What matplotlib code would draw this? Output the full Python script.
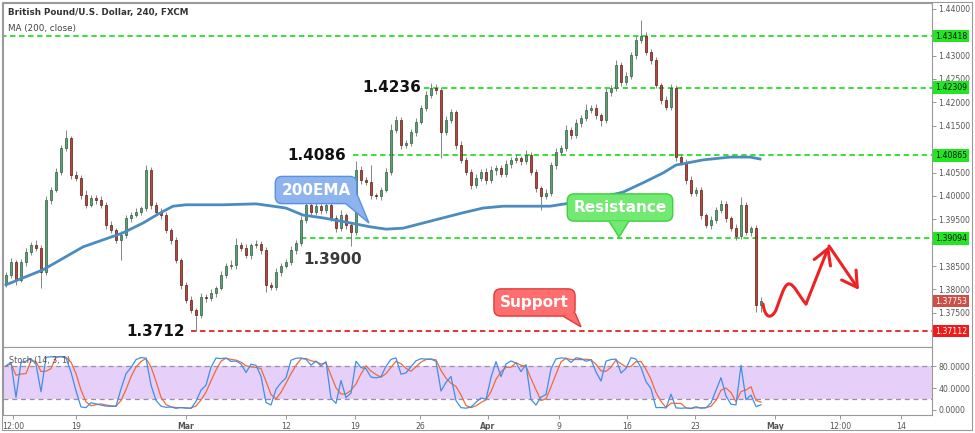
import numpy as np
import pandas as pd
import matplotlib
matplotlib.use('Agg')
import matplotlib.pyplot as plt
from matplotlib.patches import Rectangle, Polygon, FancyArrowPatch, PathPatch
from matplotlib.path import Path
from matplotlib import ticker

# GBP/USD, one candle per ~8h
open0 = 1.3813
closes = [
    1.3831, 1.3859, 1.3820, 1.3859, 1.3880, 1.3895, 1.3889, 1.3837, 1.3991, 1.4013,
    1.4051, 1.4102, 1.4124, 1.4045, 1.4038, 1.4002, 1.3981, 1.3996, 1.3991, 1.3981,
    1.3938, 1.3927, 1.3906, 1.3916, 1.3953, 1.3959, 1.3966, 1.3974, 1.4055, 1.3981,
    1.3966, 1.3959, 1.3927, 1.3906, 1.3863, 1.3810, 1.3778, 1.3756, 1.3745, 1.3784,
    1.3782, 1.3793, 1.3803, 1.3831, 1.3850, 1.3852, 1.3895, 1.3889, 1.3874, 1.3895,
    1.3897, 1.3884, 1.3810, 1.3805, 1.3837, 1.3850, 1.3859, 1.3884, 1.3899, 1.3949,
    1.3981, 1.3966, 1.3978, 1.3970, 1.3981, 1.3953, 1.3931, 1.3959, 1.3938, 1.3923,
    1.4055, 1.4034, 1.4030, 1.4002, 1.4000, 1.4013, 1.4051, 1.4141, 1.4162, 1.4109,
    1.4113, 1.4137, 1.4158, 1.4188, 1.4216, 1.4231, 1.4226, 1.4137, 1.4162, 1.4179,
    1.4109, 1.4077, 1.4051, 1.4023, 1.4038, 1.4051, 1.4034, 1.4055, 1.4060, 1.4047,
    1.4068, 1.4077, 1.4081, 1.4075, 1.4088, 1.4051, 1.4017, 1.4000, 1.4006, 1.4066,
    1.4094, 1.4102, 1.4141, 1.4130, 1.4156, 1.4167, 1.4184, 1.4188, 1.4173, 1.4162,
    1.4222, 1.4231, 1.4280, 1.4244, 1.4256, 1.4301, 1.4333, 1.4342, 1.4308, 1.4291,
    1.4237, 1.4205, 1.4190, 1.4231, 1.4083, 1.4073, 1.4034, 1.4006, 1.4013, 1.3959,
    1.3938, 1.3949, 1.3970, 1.3983, 1.3953, 1.3931, 1.3914, 1.3981, 1.3923, 1.3931,
    1.3767, 1.3775]

# wick lengths in pips above / below the body
wick_up = [
    6, 8, 5, 7, 9, 6, 10, 5, 8, 6,
    9, 7, 17, 5, 8, 6, 10, 7, 5, 8,
    6, 9, 5, 8, 7, 6, 9, 5, 11, 7,
    5, 8, 6, 4, 7, 5, 6, 8, 5, 9,
    6, 7, 5, 8, 6, 10, 14, 6, 8, 5,
    9, 7, 6, 5, 8, 6, 7, 9, 6, 8,
    12, 6, 8, 5, 9, 7, 6, 10, 5, 6,
    20, 8, 6, 36, 5, 7, 8, 12, 9, 6,
    7, 5, 8, 6, 9, 10, 8, 6, 9, 7,
    5, 8, 6, 7, 9, 6, 8, 10, 6, 7,
    8, 6, 9, 5, 10, 6, 7, 5, 8, 6,
    9, 7, 10, 6, 8, 7, 12, 6, 8, 5,
    9, 7, 10, 6, 8, 7, 9, 34, 8, 6,
    7, 5, 8, 9, 6, 7, 5, 8, 6, 7,
    5, 8, 6, 9, 7, 5, 8, 17, 6, 5,
    6, 8]
wick_dn = [
    7, 6, 10, 5, 8, 6, 7, 34, 6, 8,
    5, 7, 6, 9, 6, 8, 7, 5, 9, 6,
    8, 6, 7, 43, 6, 8, 5, 7, 6, 9,
    6, 8, 7, 9, 6, 8, 7, 6, 34, 7,
    8, 6, 9, 5, 7, 6, 8, 7, 6, 9,
    6, 8, 15, 7, 6, 8, 5, 7, 9, 6,
    7, 8, 6, 9, 7, 6, 8, 7, 9, 30,
    6, 8, 7, 9, 6, 8, 5, 7, 6, 9,
    7, 6, 8, 5, 7, 6, 9, 55, 7, 6,
    8, 7, 6, 9, 7, 6, 8, 7, 10, 6,
    7, 9, 6, 8, 7, 6, 8, 30, 7, 6,
    8, 6, 7, 9, 6, 8, 7, 6, 9, 13,
    7, 8, 6, 9, 7, 6, 8, 7, 6, 9,
    6, 8, 7, 6, 9, 7, 8, 6, 7, 9,
    6, 8, 7, 6, 9, 7, 8, 6, 7, 8,
    15, 15]

# 200 EMA (bar index, price)
ema_bar = [0, 7.4, 15.4, 23.4, 27.4, 30.4, 33.4, 36, 43.4, 50, 53.4, 56, 59.4, 63.4, 68,
           72.8, 76, 79.4, 83.4, 87.4, 91.4, 95.4, 99.4, 108.8, 115.4, 119.4, 123.4,
           127.4, 131.4, 134, 136, 139.4, 144.8, 148.8, 150.8]
ema_val = [1.3810, 1.3842, 1.3891, 1.3921, 1.3942, 1.3961, 1.3978, 1.3981, 1.3981, 1.3983,
           1.3978, 1.3974, 1.3959, 1.3953, 1.3944, 1.3934, 1.3929, 1.3931, 1.3942, 1.3953,
           1.3964, 1.3974, 1.3978, 1.3978, 1.3989, 1.3998, 1.4008, 1.4028, 1.4049, 1.4066,
           1.4070, 1.4077, 1.4083, 1.4083, 1.4079]

levels = [1.43418, 1.42309, 1.40865, 1.39094]
level_from = [-1, 83.6, 69.4, 59]
support = 1.37112
support_from = 37
last_price = 1.37753

xtick_pos = [1.4, 14, 36, 56, 69.8, 82.8, 96.4, 110.6, 124.2, 137.8, 153.8, 166.8, 179]
xtick_lab = ['12:00', '19', 'Mar', '12', '19', '26', 'Apr', '9', '16', '23', 'May', '12:00', '14']

# projected move drawn by hand (bar index, price)
wave_pts = [(151.4, 1.3769), (151.8, 1.3739), (153.0, 1.3735), (154.0, 1.3756),
            (154.8, 1.3778), (155.6, 1.3812), (156.6, 1.3812),
            (157.6, 1.3812), (158.6, 1.3786), (160.0, 1.3769)]
arrow_up = [(160.0, 1.3769), (164.6, 1.3893)]
arrow_dn = [(164.6, 1.3893), (170.6, 1.3799)]

c = np.array(closes)
o = np.array([open0] + closes[:-1])
h = np.maximum(o, c) + np.array(wick_up) * 1e-4
l = np.minimum(o, c) - np.array(wick_dn) * 1e-4
idx = np.arange(len(c))

fig = plt.figure(figsize=(9.75, 4.33), dpi=100)
ax = fig.add_axes([3 / 975, 86 / 433, 929 / 975, 344 / 433])
ax2 = fig.add_axes([3 / 975, 18 / 433, 929 / 975, 68 / 433], sharex=ax)

up = c >= o
ax.vlines(idx, l, h, color='#737375', lw=0.6, zorder=2)
ax.bar(idx, c - o, bottom=o, width=0.55,
       color=np.where(up, '#5f9f78', '#b5483a'),
       edgecolor=np.where(up, '#2c5e3e', '#5b1a13'), linewidth=0.5, zorder=2.1)
ax.plot(ema_bar, ema_val, color='#4a8cbf', lw=2, zorder=3)

for lv, x0 in zip(levels, level_from):
    ax.plot([x0, 190], [lv, lv], color='#2add2a', lw=1.3, dashes=(3, 2), zorder=1.8)
ax.plot([support_from, 190], [support, support], color='#e52222', lw=1.3, dashes=(3, 2), zorder=1.8)

ax.set_xlim(-0.6, 185.2)
ax.set_ylim(1.3677, 1.44124)

# right price scale; labels sitting under a level tag are left blank
yt = np.arange(1.375, 1.4401, 0.005)
tag_vals = levels + [last_price, support]
ax.yaxis.tick_right()
ax.set_yticks(yt)
ax.set_yticklabels(['' if min(abs(v - t) for t in tag_vals) < 0.0016 else '%.5f' % v for v in yt])
ax.tick_params(axis='y', length=3, width=0.6, color='#888', labelsize=5.6,
               labelcolor='#555', pad=1.5)
ax.tick_params(axis='x', bottom=False, labelbottom=False)
for s in ax.spines.values():
    s.set_color('#9a9a9a')
    s.set_linewidth(0.8)

# price labels on the right axis
tags = [(lv, '#22e622', '#111111') for lv in levels] + \
       [(last_price, '#cc4f48', 'white'), (support, '#f01a1a', 'white')]
tf = ax.get_yaxis_transform()
for lv, fc, tc in tags:
    ax.annotate('%.5f' % lv, xy=(1, lv), xycoords=tf, xytext=(2, 0),
                textcoords='offset points', ha='left', va='center', fontsize=5.6,
                color=tc, annotation_clip=False, zorder=6,
                bbox=dict(boxstyle='square,pad=0.25', fc=fc, ec='none'))

# level numbers
ax.text(83, 1.42309, '1.4236', ha='right', va='center', fontsize=11, weight='bold', color='#111')
ax.text(68, 1.40865, '1.4086', ha='right', va='center', fontsize=11, weight='bold', color='#111')
ax.text(59.4, 1.3863, '1.3900', ha='left', va='center', fontsize=11, weight='bold', color='#3a3a3a')
ax.text(35.8, 1.37112, '1.3712', ha='right', va='center', fontsize=11, weight='bold', color='#111')

# callouts
def callout(x, y, txt, fc, ec, tail):
    ax.text(x, y, txt, ha='center', va='center', color='white', fontsize=11, weight='bold',
            zorder=6, bbox=dict(boxstyle='round,pad=0.4,rounding_size=0.45', fc=fc, ec=ec, lw=1))
    ax.add_patch(Polygon(tail, closed=False, fc=fc, ec=ec, lw=1, zorder=6.5))

callout(62, 1.40126, '200EMA', '#8db4ef', '#5b8fe3',
        [(68.0, 1.3983), (72.6, 1.3942), (70.2, 1.4004)])
callout(122.8, 1.39752, 'Resistance', '#72ea72', '#3fd03f',
        [(120.6, 1.3946), (122.6, 1.3912), (124.6, 1.3946)])
callout(105.7, 1.37722, 'Support', '#ff6e6e', '#e03a3a',
        [(111.4, 1.3743), (115.0, 1.3720), (113.8, 1.3750)])

# hand-drawn projection
codes = [Path.MOVETO] + [Path.CURVE4] * 9
ax.add_patch(PathPatch(Path(wave_pts, codes), fc='none', ec='#ee2222', lw=2.2,
                       capstyle='round', zorder=5))
for a, b in (arrow_up, arrow_dn):
    ax.add_patch(FancyArrowPatch(a, b, arrowstyle='->,head_length=0.6,head_width=0.35',
                                 mutation_scale=18, color='#ee2222', lw=2.2,
                                 shrinkA=0, shrinkB=0, capstyle='round', zorder=5))

fig.text(8 / 975, 1 - 13 / 433, 'British Pound/U.S. Dollar, 240, FXCM', fontsize=6.3,
         weight='semibold', color='#333', va='center')
fig.text(8 / 975, 1 - 29 / 433, 'MA (200, close)', fontsize=6.3, color='#444', va='center')

# stochastic (14, 3, 1) from the candles above
win = 6
hh = pd.Series(h).rolling(win, min_periods=1).max()
ll = pd.Series(l).rolling(win, min_periods=1).min()
k = 100 * (pd.Series(c) - ll) / (hh - ll)
d = k.rolling(3, min_periods=1).mean()

ax2.axhspan(20, 80, color='#e6cff8', lw=0, zorder=0)
for lv in (20, 80):
    ax2.axhline(lv, color='#9a8fa0', lw=0.9, dashes=(4, 3), zorder=1)
ax2.plot(idx, k, color='#3f8fe6', lw=0.9, zorder=3)
ax2.plot(idx, d, color='#f06a3a', lw=0.9, zorder=2)
ax2.set_ylim(-9.3, 115)
ax2.yaxis.tick_right()
ax2.set_yticks([0, 40, 80])
ax2.yaxis.set_major_formatter(ticker.FormatStrFormatter('%.4f'))
ax2.tick_params(axis='y', length=3, width=0.6, color='#888', labelsize=5.6,
                labelcolor='#555', pad=1.5)
ax2.set_xticks(xtick_pos)
ax2.set_xticklabels(xtick_lab)
ax2.tick_params(axis='x', length=3, width=0.6, color='#888', labelsize=5.6,
                labelcolor='#555', pad=2)
for t in ax2.get_xticklabels():
    if t.get_text() in ('Mar', 'Apr', 'May'):
        t.set_weight('bold')
for s in ax2.spines.values():
    s.set_color('#9a9a9a')
    s.set_linewidth(0.8)
ax2.text(0.006, 0.8, 'Stoch (14, 3, 1)', transform=ax2.transAxes, fontsize=5.8,
         color='#555', va='center')

fig.add_artist(Rectangle((2 / 975, 3 / 433), 970 / 975, 428 / 433, transform=fig.transFigure,
                         fill=False, ec='#9a9a9a', lw=0.8))

plt.savefig('out.png', dpi=100)
